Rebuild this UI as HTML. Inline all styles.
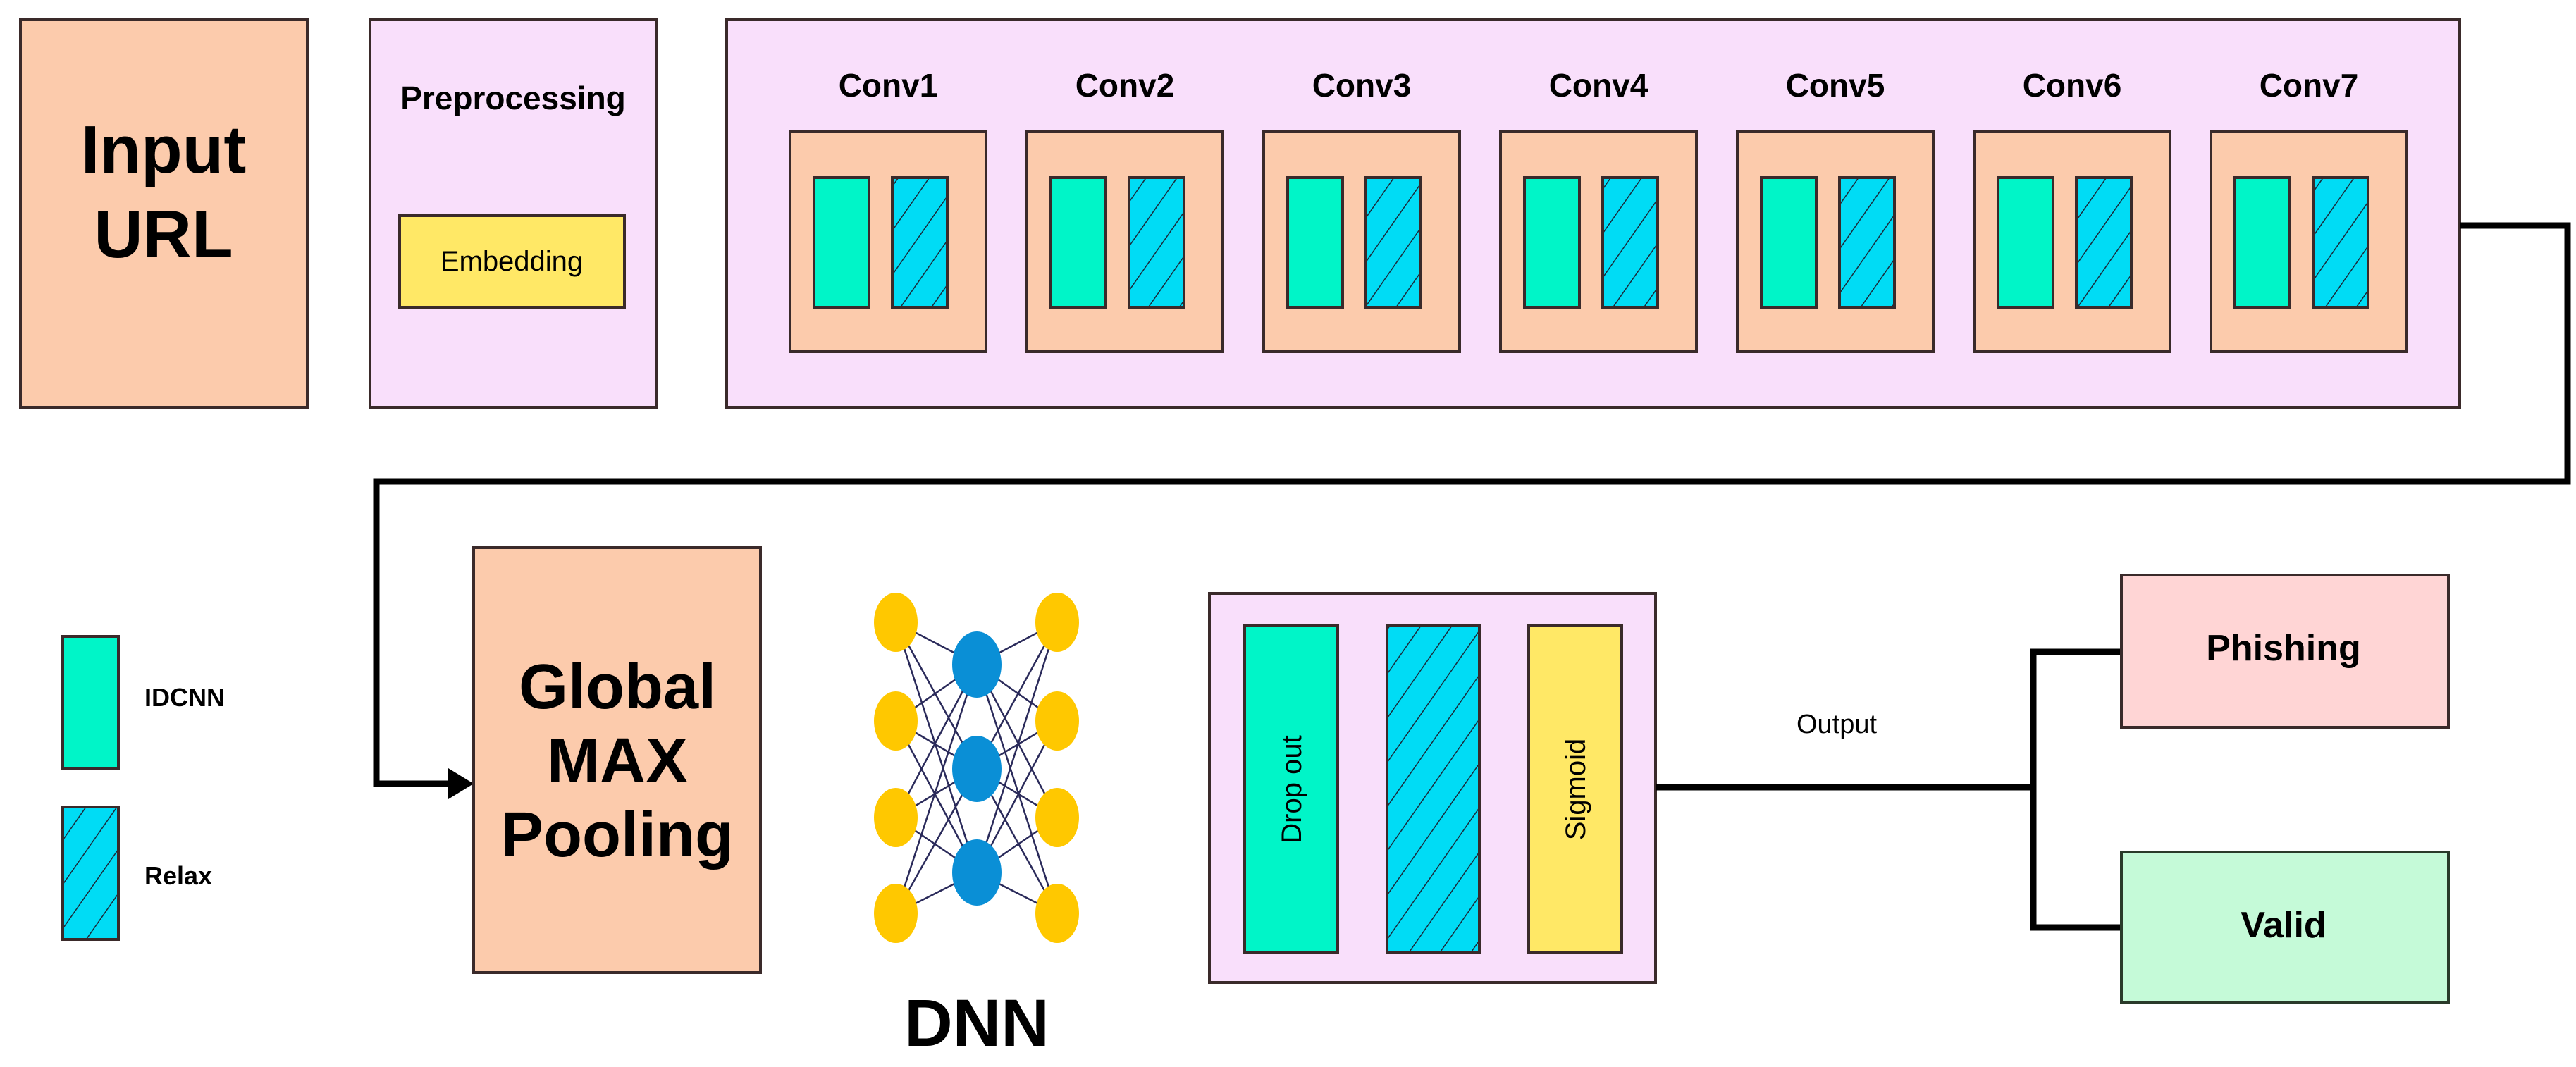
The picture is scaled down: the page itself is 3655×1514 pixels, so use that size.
<!DOCTYPE html>
<html><head><meta charset="utf-8"><style>
html,body{margin:0;padding:0;background:#fff;}
svg{display:block;}
text{font-family:"Liberation Sans",sans-serif;}
</style></head><body>
<svg width="3655" height="1514" viewBox="0 0 3655 1514" xmlns="http://www.w3.org/2000/svg">
<defs>
<pattern id="h" width="36" height="36" patternUnits="userSpaceOnUse" patternTransform="rotate(35)">
<rect width="36" height="36" fill="#00dcf5"/>
<line x1="0" y1="0" x2="0" y2="36" stroke="#1a2a3a" stroke-width="3"/>
</pattern>
</defs>
<g stroke="#3a2a2a" stroke-width="4">
<rect x="29" y="28" width="407" height="550" fill="#fccbac"/>
<rect x="525" y="28" width="407" height="550" fill="#f9dffb"/>
<rect x="567" y="306" width="319" height="130" fill="#ffe866"/>
<rect x="1031" y="28" width="2459" height="550" fill="#f9dffb"/>
</g>
<text x="232" y="245" font-size="96" font-weight="bold" text-anchor="middle">Input</text>
<text x="232" y="365" font-size="96" font-weight="bold" text-anchor="middle">URL</text>
<text x="728" y="155" font-size="46" font-weight="bold" text-anchor="middle">Preprocessing</text>
<text x="726" y="384" font-size="40" text-anchor="middle">Embedding</text>
<g stroke="#3a2a2a" stroke-width="4">
<rect x="1121" y="187" width="278" height="312" fill="#fccbac"/><rect x="1155" y="252" width="78" height="184" fill="#00f5c8"/><rect x="1266" y="252" width="78" height="184" fill="url(#h)"/>
<rect x="1457" y="187" width="278" height="312" fill="#fccbac"/><rect x="1491" y="252" width="78" height="184" fill="#00f5c8"/><rect x="1602" y="252" width="78" height="184" fill="url(#h)"/>
<rect x="1793" y="187" width="278" height="312" fill="#fccbac"/><rect x="1827" y="252" width="78" height="184" fill="#00f5c8"/><rect x="1938" y="252" width="78" height="184" fill="url(#h)"/>
<rect x="2129" y="187" width="278" height="312" fill="#fccbac"/><rect x="2163" y="252" width="78" height="184" fill="#00f5c8"/><rect x="2274" y="252" width="78" height="184" fill="url(#h)"/>
<rect x="2465" y="187" width="278" height="312" fill="#fccbac"/><rect x="2499" y="252" width="78" height="184" fill="#00f5c8"/><rect x="2610" y="252" width="78" height="184" fill="url(#h)"/>
<rect x="2801" y="187" width="278" height="312" fill="#fccbac"/><rect x="2835" y="252" width="78" height="184" fill="#00f5c8"/><rect x="2946" y="252" width="78" height="184" fill="url(#h)"/>
<rect x="3137" y="187" width="278" height="312" fill="#fccbac"/><rect x="3171" y="252" width="78" height="184" fill="#00f5c8"/><rect x="3282" y="252" width="78" height="184" fill="url(#h)"/>
</g>
<g font-size="46" font-weight="bold" text-anchor="middle">
<text x="1260" y="137">Conv1</text><text x="1596" y="137">Conv2</text><text x="1932" y="137">Conv3</text><text x="2268" y="137">Conv4</text><text x="2604" y="137">Conv5</text><text x="2940" y="137">Conv6</text><text x="3276" y="137">Conv7</text>
</g>
<polyline points="3490,320 3643,320 3643,683 534,683 534,1112 640,1112" fill="none" stroke="#000" stroke-width="9"/>
<polygon points="636,1090 672,1112 636,1134" fill="#000"/>
<rect x="672" y="777" width="407" height="603" fill="#fccbac" stroke="#3a2a2a" stroke-width="4"/>
<g font-size="90" font-weight="bold" text-anchor="middle">
<text x="876" y="1005">Global</text><text x="876" y="1110">MAX</text><text x="876" y="1215">Pooling</text>
</g>
<rect x="89" y="903" width="79" height="187" fill="#00f5c8" stroke="#3a2a2a" stroke-width="4"/>
<rect x="89" y="1145" width="79" height="188" fill="url(#h)" stroke="#3a2a2a" stroke-width="4"/>
<text x="205" y="1002" font-size="36" font-weight="bold">IDCNN</text>
<text x="205" y="1255" font-size="36" font-weight="bold">Relax</text>
<g stroke="#2a2a5a" stroke-width="2.5">
<line x1="1271" y1="883" x2="1386" y2="943"/><line x1="1271" y1="883" x2="1386" y2="1091"/><line x1="1271" y1="883" x2="1386" y2="1238"/>
<line x1="1271" y1="1023" x2="1386" y2="943"/><line x1="1271" y1="1023" x2="1386" y2="1091"/><line x1="1271" y1="1023" x2="1386" y2="1238"/>
<line x1="1271" y1="1160" x2="1386" y2="943"/><line x1="1271" y1="1160" x2="1386" y2="1091"/><line x1="1271" y1="1160" x2="1386" y2="1238"/>
<line x1="1271" y1="1296" x2="1386" y2="943"/><line x1="1271" y1="1296" x2="1386" y2="1091"/><line x1="1271" y1="1296" x2="1386" y2="1238"/>
<line x1="1500" y1="883" x2="1386" y2="943"/><line x1="1500" y1="883" x2="1386" y2="1091"/><line x1="1500" y1="883" x2="1386" y2="1238"/>
<line x1="1500" y1="1023" x2="1386" y2="943"/><line x1="1500" y1="1023" x2="1386" y2="1091"/><line x1="1500" y1="1023" x2="1386" y2="1238"/>
<line x1="1500" y1="1160" x2="1386" y2="943"/><line x1="1500" y1="1160" x2="1386" y2="1091"/><line x1="1500" y1="1160" x2="1386" y2="1238"/>
<line x1="1500" y1="1296" x2="1386" y2="943"/><line x1="1500" y1="1296" x2="1386" y2="1091"/><line x1="1500" y1="1296" x2="1386" y2="1238"/>
</g>
<g fill="#ffc800">
<ellipse cx="1271" cy="883" rx="31" ry="42"/><ellipse cx="1271" cy="1023" rx="31" ry="42"/><ellipse cx="1271" cy="1160" rx="31" ry="42"/><ellipse cx="1271" cy="1296" rx="31" ry="42"/>
<ellipse cx="1500" cy="883" rx="31" ry="42"/><ellipse cx="1500" cy="1023" rx="31" ry="42"/><ellipse cx="1500" cy="1160" rx="31" ry="42"/><ellipse cx="1500" cy="1296" rx="31" ry="42"/>
</g>
<g fill="#0a8fd6">
<ellipse cx="1386" cy="943" rx="35" ry="47"/><ellipse cx="1386" cy="1091" rx="35" ry="47"/><ellipse cx="1386" cy="1238" rx="35" ry="47"/>
</g>
<text x="1386" y="1484" font-size="95" font-weight="bold" text-anchor="middle">DNN</text>
<g stroke="#3a2a2a" stroke-width="4">
<rect x="1716" y="842" width="633" height="552" fill="#f9dffb"/>
<rect x="1766" y="887" width="132" height="465" fill="#00f5c8"/>
<rect x="1968" y="887" width="131" height="465" fill="url(#h)"/>
<rect x="2169" y="887" width="132" height="465" fill="#ffe866"/>
</g>
<text transform="translate(1846,1120) rotate(-90)" font-size="40" text-anchor="middle">Drop out</text>
<text transform="translate(2249,1120) rotate(-90)" font-size="40" text-anchor="middle">Sigmoid</text>
<polyline points="2349,1117 2885,1117" fill="none" stroke="#000" stroke-width="9"/>
<polyline points="3010,925 2885,925 2885,1316 3010,1316" fill="none" stroke="#000" stroke-width="9"/>
<text x="2606" y="1040" font-size="38" text-anchor="middle">Output</text>
<rect x="3010" y="816" width="464" height="216" fill="#ffd5d5" stroke="#3a2a2a" stroke-width="4"/>
<rect x="3010" y="1209" width="464" height="214" fill="#c5fad8" stroke="#2a3a2a" stroke-width="4"/>
<text x="3240" y="937" font-size="52" font-weight="bold" text-anchor="middle">Phishing</text>
<text x="3240" y="1330" font-size="52" font-weight="bold" text-anchor="middle">Valid</text>
</svg>
</body></html>
